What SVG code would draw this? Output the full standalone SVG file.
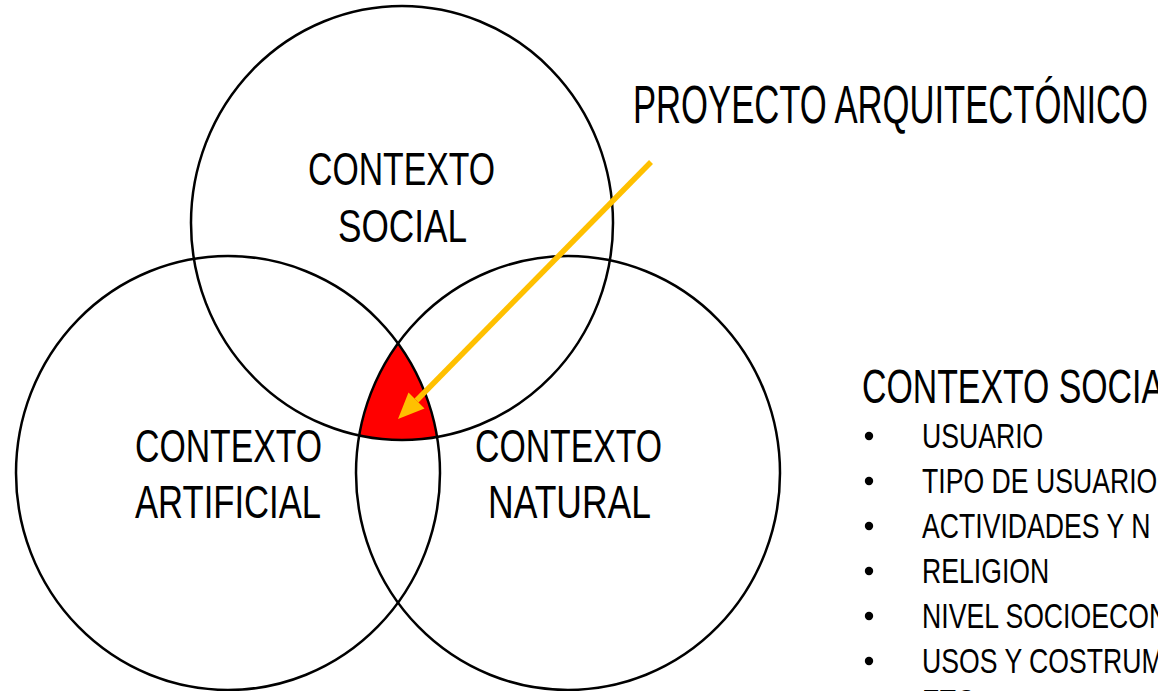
<svg xmlns="http://www.w3.org/2000/svg" width="1158" height="691" viewBox="0 0 1158 691">
  <style>
    .ring { fill: none; stroke: #000; stroke-width: 2.5; }
    .lbl { font-family: "Liberation Sans", Arial, sans-serif; font-size: 47px; fill: #000; }
    .head { font-family: "Liberation Sans", Arial, sans-serif; font-size: 49px; fill: #000; }
    .item { font-family: "Liberation Sans", Arial, sans-serif; font-size: 36px; fill: #000; }
    .bullet { fill: #000; }
  </style>
  <defs>
    <clipPath id="clipL"><ellipse cx="228" cy="473" rx="212" ry="217"/></clipPath>
    <clipPath id="clipR"><ellipse cx="568" cy="473" rx="212" ry="217"/></clipPath>
  </defs>
  <rect width="1158" height="691" fill="#fff"/>

  <g id="intersection">
    <g clip-path="url(#clipL)">
      <g clip-path="url(#clipR)">
        <ellipse cx="402" cy="223" rx="211" ry="217" fill="#ff0000"/>
      </g>
    </g>
  </g>

  <g id="social">
    <ellipse class="ring" cx="402" cy="223" rx="211" ry="217"/>
    <text class="lbl" x="308" y="185" textLength="187" lengthAdjust="spacingAndGlyphs">CONTEXTO</text>
    <text class="lbl" x="338" y="242" textLength="129" lengthAdjust="spacingAndGlyphs">SOCIAL</text>
  </g>
  <g id="artificial">
    <ellipse class="ring" cx="228" cy="473" rx="212" ry="217"/>
    <text class="lbl" x="135" y="462" textLength="187" lengthAdjust="spacingAndGlyphs">CONTEXTO</text>
    <text class="lbl" x="135" y="518" textLength="186" lengthAdjust="spacingAndGlyphs">ARTIFICIAL</text>
  </g>
  <g id="natural">
    <ellipse class="ring" cx="568" cy="473" rx="212" ry="217"/>
    <text class="lbl" x="475" y="462" textLength="187" lengthAdjust="spacingAndGlyphs">CONTEXTO</text>
    <text class="lbl" x="488" y="518" textLength="163" lengthAdjust="spacingAndGlyphs">NATURAL</text>
  </g>

  <g id="title">
    <text x="633" y="123" font-family="Liberation Sans, Arial, sans-serif" font-size="54" textLength="515" lengthAdjust="spacingAndGlyphs">PROYECTO ARQUITECTÓNICO</text>
  </g>

  <g id="connectors">
    <line x1="651" y1="162" x2="416.5" y2="400.5" stroke="#ffc000" stroke-width="5.5"/>
    <polygon points="398,419 424.5,408.5 408.5,392.5" fill="#ffc000"/>
  </g>

  <g id="panel">
    <text class="head" x="862" y="403" textLength="302" lengthAdjust="spacingAndGlyphs">CONTEXTO SOCIA</text>
    <circle class="bullet" cx="869" cy="436" r="4.2"/>
    <circle class="bullet" cx="869" cy="481" r="4.2"/>
    <circle class="bullet" cx="869" cy="526" r="4.2"/>
    <circle class="bullet" cx="869" cy="571" r="4.2"/>
    <circle class="bullet" cx="869" cy="616" r="4.2"/>
    <circle class="bullet" cx="869" cy="661" r="4.2"/>
    <g transform="translate(922,0) scale(0.74,1)">
      <text class="item" x="0" y="448">USUARIO</text>
      <text class="item" x="0" y="493">TIPO DE USUARIO</text>
      <text class="item" x="0" y="538">ACTIVIDADES Y N</text>
      <text class="item" x="0" y="583">RELIGION</text>
      <text class="item" x="0" y="628">NIVEL SOCIOECON</text>
      <text class="item" x="0" y="673">USOS Y COSTRUM</text>
      <text class="item" x="0" y="714">ETC</text>
    </g>
  </g>
</svg>
